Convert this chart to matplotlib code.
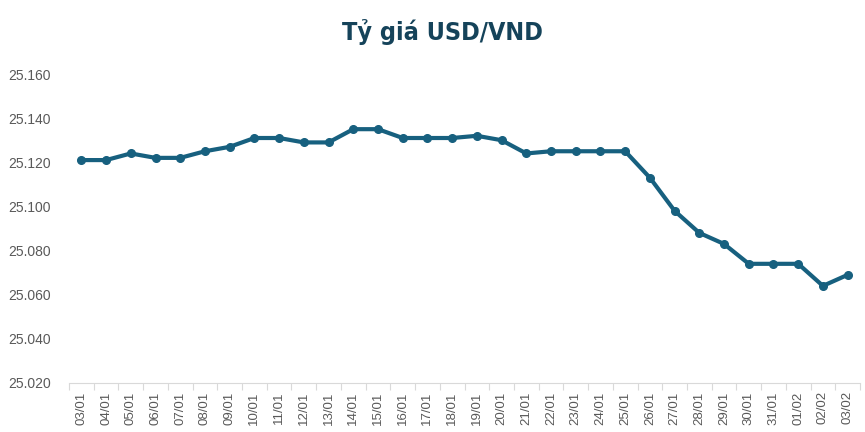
import matplotlib.pyplot as plt
from matplotlib.ticker import FuncFormatter, FixedLocator, NullFormatter

DATES = ["03/01", "04/01", "05/01", "06/01", "07/01", "08/01", "09/01", "10/01",
         "11/01", "12/01", "13/01", "14/01", "15/01", "16/01", "17/01", "18/01",
         "19/01", "20/01", "21/01", "22/01", "23/01", "24/01", "25/01", "26/01",
         "27/01", "28/01", "29/01", "30/01", "31/01", "01/02", "02/02", "03/02"]
RATES = [25121, 25121, 25124, 25122, 25122, 25125, 25127, 25131,
         25131, 25129, 25129, 25135, 25135, 25131, 25131, 25131,
         25132, 25130, 25124, 25125, 25125, 25125, 25125, 25113,
         25098, 25088, 25083, 25074, 25074, 25074, 25064, 25069]
Y_TICKS = list(range(25020, 25161, 20))
TITLE = "Tỷ giá USD/VND"

LINE_COLOR = "#17607F"
TITLE_COLOR = "#15435A"
TEXT_COLOR = "#595959"
AXIS_COLOR = "#D9D9D9"

plt.rcParams['font.family'] = ['Liberation Sans', 'DejaVu Sans']

fig = plt.figure(figsize=(8.65, 4.32), dpi=100)
ax = fig.add_axes([69 / 865, 1 - 383 / 432, (860 - 69) / 865, (383 - 74) / 432])

x = list(range(len(DATES)))
ax.plot(x, RATES, color=LINE_COLOR, linewidth=3.0, marker='o', markersize=5.5,
        solid_capstyle='round', solid_joinstyle='round')

ax.set_xlim(-0.5, len(DATES) - 0.5)
ax.set_ylim(Y_TICKS[0], Y_TICKS[-1])
ax.set_yticks(Y_TICKS)
ax.yaxis.set_major_formatter(FuncFormatter(lambda v, p: "{:,.0f}".format(v).replace(",", ".")))

ax.set_xticks(x)
ax.set_xticklabels(DATES, rotation=90, fontsize=9.5, color=TEXT_COLOR)
ax.tick_params(axis='x', which='major', length=0, pad=6)
ax.xaxis.set_minor_locator(FixedLocator([i - 0.5 for i in range(len(DATES) + 1)]))
ax.xaxis.set_minor_formatter(NullFormatter())
ax.tick_params(axis='x', which='minor', length=5, color=AXIS_COLOR, width=0.8)

ax.tick_params(axis='y', length=0, labelsize=10, labelcolor=TEXT_COLOR, pad=13)

for side in ['top', 'right', 'left']:
    ax.spines[side].set_visible(False)
ax.spines['bottom'].set_color(AXIS_COLOR)
ax.spines['bottom'].set_linewidth(0.8)

fig.text(442 / 865, 1 - 32 / 432, TITLE, ha='center', va='center', fontsize=18,
         fontweight='bold', color=TITLE_COLOR, fontstretch='condensed',
         family=['DejaVu Sans'])

fig.savefig("out.png", dpi=100)
